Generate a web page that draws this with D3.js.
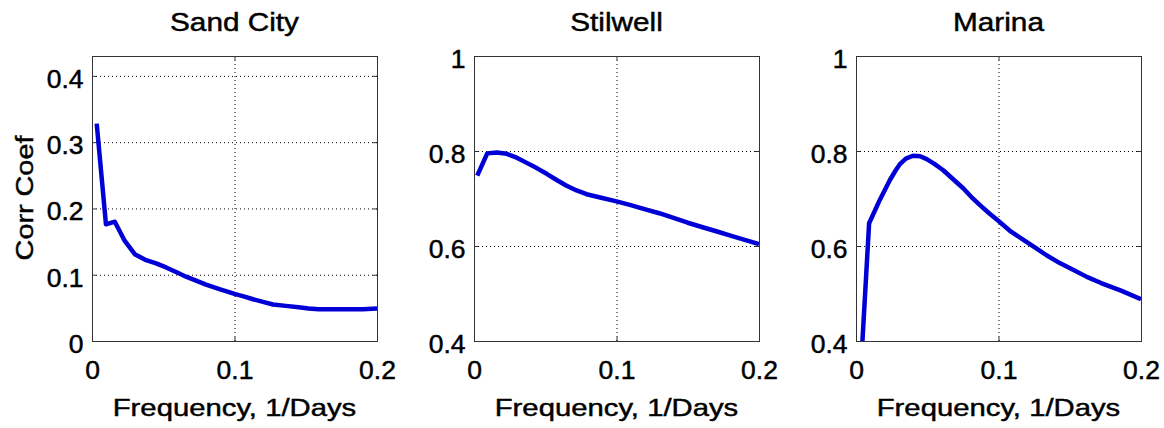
<!DOCTYPE html>
<html>
<head>
<meta charset="utf-8">
<script src="https://cdn.jsdelivr.net/npm/d3@7"></script>
<style>
body { margin: 0; background: #fff; }
svg text { font-family: "Liberation Sans", Arial, Helvetica, sans-serif; fill: #000; stroke: #000; stroke-width: 0.45px; }
</style>
</head>
<body>
<script>
//titles and axis text
var titles = ["Sand City", "Stilwell", "Marina"];
var xLabel = "Frequency, 1/Days";
var yLabel = "Corr Coef";

//tick values
var xTicks = [0, 0.1, 0.2];
var yTicksSand = [0, 0.1, 0.2, 0.3, 0.4];
var yTicksOther = [0.4, 0.6, 0.8, 1];

//series
var freqSand = [0.0033, 0.0098, 0.016, 0.023, 0.030, 0.038, 0.045, 0.052, 0.059, 0.066, 0.073, 0.080, 0.090, 0.100, 0.107, 0.113, 0.120, 0.127, 0.136, 0.145, 0.152, 0.159, 0.170, 0.180, 0.190, 0.200];
var corrSand = [0.328, 0.176, 0.180, 0.151, 0.131, 0.122, 0.117, 0.111, 0.104, 0.097, 0.091, 0.085, 0.078, 0.071, 0.067, 0.063, 0.059, 0.055, 0.053, 0.051, 0.049, 0.048, 0.048, 0.048, 0.048, 0.049];

var freqStilwell = [0.0023, 0.0093, 0.016, 0.023, 0.030, 0.037, 0.044, 0.051, 0.058, 0.065, 0.072, 0.079, 0.090, 0.100, 0.110, 0.119, 0.130, 0.140, 0.150, 0.161, 0.170, 0.180, 0.190, 0.200];
var corrStilwell = [0.748, 0.795, 0.797, 0.794, 0.786, 0.775, 0.764, 0.752, 0.739, 0.727, 0.717, 0.709, 0.701, 0.694, 0.686, 0.678, 0.669, 0.659, 0.649, 0.639, 0.631, 0.622, 0.613, 0.604];

var freqMarina = [0.0027, 0.0092, 0.0167, 0.0238, 0.028, 0.031, 0.035, 0.040, 0.045, 0.0496, 0.055, 0.061, 0.068, 0.0754, 0.081, 0.087, 0.093, 0.0994, 0.108, 0.118, 0.126, 0.134, 0.143, 0.153, 0.162, 0.172, 0.186, 0.200];
var corrMarina = [0.304, 0.648, 0.697, 0.739, 0.760, 0.773, 0.784, 0.790, 0.789, 0.783, 0.773, 0.760, 0.741, 0.721, 0.703, 0.686, 0.670, 0.654, 0.632, 0.612, 0.596, 0.580, 0.564, 0.549, 0.535, 0.522, 0.506, 0.488];

var panels = [
    {title: titles[0], freq: freqSand, corr: corrSand, yDomain: [0, 0.43], yTicks: yTicksSand, left: 92},
    {title: titles[1], freq: freqStilwell, corr: corrStilwell, yDomain: [0.4, 1], yTicks: yTicksOther, left: 474},
    {title: titles[2], freq: freqMarina, corr: corrMarina, yDomain: [0.4, 1], yTicks: yTicksOther, left: 856}
];

var width = 1164, height = 428;
var plotW = 285, plotTop = 56, plotBottom = 341;

var svg = d3.select("body").append("svg")
    .attr("width", width)
    .attr("height", height);

svg.append("rect").attr("width", width).attr("height", height).attr("fill", "#fff");

//text with a horizontal stretch, MATLAB Helvetica runs wide
function addText(g, str, x, y, size, sx, rot){
    return g.append("text")
        .attr("transform", "translate(" + x + "," + y + ") rotate(" + (rot || 0) + ") scale(" + sx + ",1)")
        .attr("text-anchor", "middle")
        .style("font-size", size + "px")
        .text(str);
}

panels.forEach(function(p, i){
    var x = d3.scaleLinear().domain([0, 0.2]).range([p.left, p.left + plotW]);
    var y = d3.scaleLinear().domain(p.yDomain).range([plotBottom, plotTop]);
    var g = svg.append("g");

    //dotted grid
    var grid = g.append("g");
    grid.append("g")
        .attr("transform", "translate(0," + plotBottom + ")")
        .call(d3.axisBottom(x).tickValues(xTicks).tickSize(-(plotBottom - plotTop)).tickFormat(""))
        .call(function(a){ a.select(".domain").remove(); });
    grid.append("g")
        .attr("transform", "translate(" + p.left + ",0)")
        .call(d3.axisLeft(y).tickValues(p.yTicks).tickSize(-plotW).tickFormat(""))
        .call(function(a){ a.select(".domain").remove(); });
    grid.selectAll(".tick line")
        .attr("stroke", "#000")
        .attr("stroke-width", 1)
        .attr("stroke-dasharray", "1,3");

    //clip for the line
    svg.append("clipPath").attr("id", "clip" + i)
        .append("rect")
        .attr("x", p.left).attr("y", plotTop)
        .attr("width", plotW).attr("height", plotBottom - plotTop);

    var line = d3.line()
        .x(function(d){ return x(d[0]); })
        .y(function(d){ return y(d[1]); });

    g.append("path")
        .datum(d3.zip(p.freq, p.corr))
        .attr("clip-path", "url(#clip" + i + ")")
        .attr("fill", "none")
        .attr("stroke", "#0000d6")
        .attr("stroke-width", 4.5)
        .attr("stroke-linejoin", "round")
        .attr("d", line);

    //box with small inward ticks
    var bx = g.append("g").attr("transform", "translate(0," + plotBottom + ")")
        .call(d3.axisBottom(x).tickValues(xTicks).tickSize(-4).tickPadding(20).tickFormat(d3.format("")));
    var tx = g.append("g").attr("transform", "translate(0," + plotTop + ")")
        .call(d3.axisTop(x).tickValues(xTicks).tickSize(-4).tickFormat(""));
    var ly = g.append("g").attr("transform", "translate(" + p.left + ",0)")
        .call(d3.axisLeft(y).tickValues(p.yTicks).tickSize(-4).tickPadding(8).tickFormat(d3.format("")));
    var ry = g.append("g").attr("transform", "translate(" + (p.left + plotW) + ",0)")
        .call(d3.axisRight(y).tickValues(p.yTicks).tickSize(-4).tickFormat(""));

    [bx, tx, ly, ry].forEach(function(a){
        a.attr("font-family", null).attr("font-size", null);
        a.select(".domain").attr("stroke", "#333").attr("stroke-width", 1);
        a.selectAll(".tick line").attr("stroke", "#333");
    });

    bx.selectAll(".tick text")
        .style("font-size", "25px")
        .attr("transform", "scale(1.06,1)");
    ly.selectAll(".tick text")
        .style("font-size", "25px")
        .attr("dy", "0.46em")
        .attr("transform", "scale(1.06,1)");

    addText(g, p.title, p.left + plotW / 2, 31, 25, 1.19, 0);
    addText(g, xLabel, p.left + plotW / 2, 416, 24, 1.22, 0);
});

addText(svg, yLabel, 33, 198, 24, 1.2, -90);
</script>
</body>
</html>
